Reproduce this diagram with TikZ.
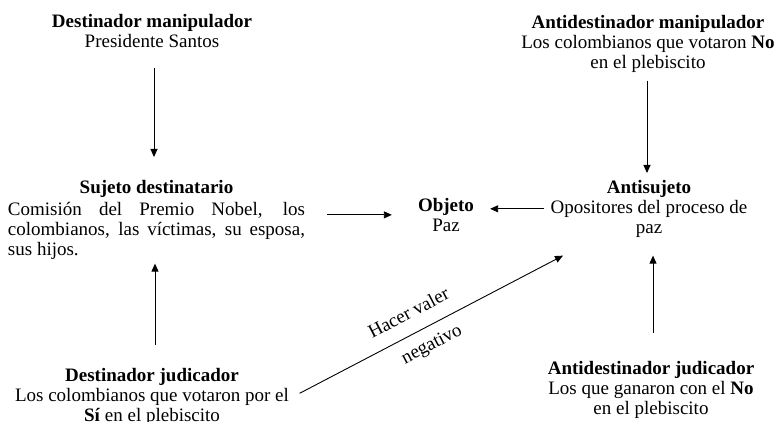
\documentclass[tikz,border=0pt]{standalone}
\usepackage{fontspec}
\setmainfont{Liberation Serif}
\usetikzlibrary{arrows.meta}
\begin{document}
\begin{tikzpicture}[x=1pt,y=-1pt,
  lbl/.style={inner sep=0pt, align=center, anchor=north, font=\fontsize{19}{20}\selectfont},
  arr/.style={line width=0.9pt, -{Triangle[length=8pt,width=7pt]}},
  tag/.style={font=\fontsize{19}{20}\selectfont, sloped, inner sep=0pt}]
\useasboundingbox (0,0) rectangle (777,422);
\node[lbl] (dm) at (152,14) {\textbf{Destinador manipulador}\\Presidente Santos};
\node[lbl, align=justify, text width=297pt] (sd) at (156.5,180)
  {\noindent\makebox[297pt]{\textbf{Sujeto destinatario}}\par\vspace{2pt}\noindent Comisión del Premio Nobel, los\linebreak colombianos, las víctimas, su esposa,\linebreak sus hijos.};
\node[lbl] (obj) at (446,198) {\textbf{Objeto}\\Paz};
\node[lbl] (as) at (649,180) {\textbf{Antisujeto}\\Opositores del proceso de\\paz};
\node[lbl] (adm) at (648,15) {\textbf{Antidestinador manipulador}\\Los colombianos que votaron \textbf{No}\\en el plebiscito};
\node[lbl] (dj) at (152,368) {\textbf{Destinador judicador}\\Los colombianos que votaron por el\\\textbf{Sí} en el plebiscito};
\node[lbl] (adj) at (651,361) {\textbf{Antidestinador judicador}\\Los que ganaron con el \textbf{No}\\en el plebiscito};
\draw[arr, shorten <=20pt, shorten >=23pt] ([xshift=2pt]dm.south) -- ([xshift=2pt]dm.south |- sd.north);
\draw[arr, shorten <=8pt, shorten >=7pt] ([xshift=-1pt]adm.south) -- ([xshift=-1pt]adm.south |- as.north);
\draw[arr, shorten <=23pt, shorten >=4pt] ([xshift=3pt]dj.north) -- ([xshift=3pt]dj.north |- sd.south);
\draw[arr, shorten <=28pt, shorten >=18pt] ([xshift=2pt]adj.north) -- ([xshift=2pt]adj.north |- as.south);
\draw[arr, shorten <=22pt, shorten >=26pt] (sd.east |- obj.west) -- (obj.west);
\draw[arr, shorten >=16pt] ([xshift=-6.5pt]as.west) -- (as.west -| obj.east);
\draw[arr] ([xshift=10.5pt,yshift=3.5pt]dj.east) --
  node[tag, above=14pt, pos=0.45] (hv) {Hacer valer}
  node[tag, below=10pt, pos=0.47] (ng) {negativo}
  ([xshift=-86pt,yshift=-18pt]as.south);
\end{tikzpicture}
\end{document}
